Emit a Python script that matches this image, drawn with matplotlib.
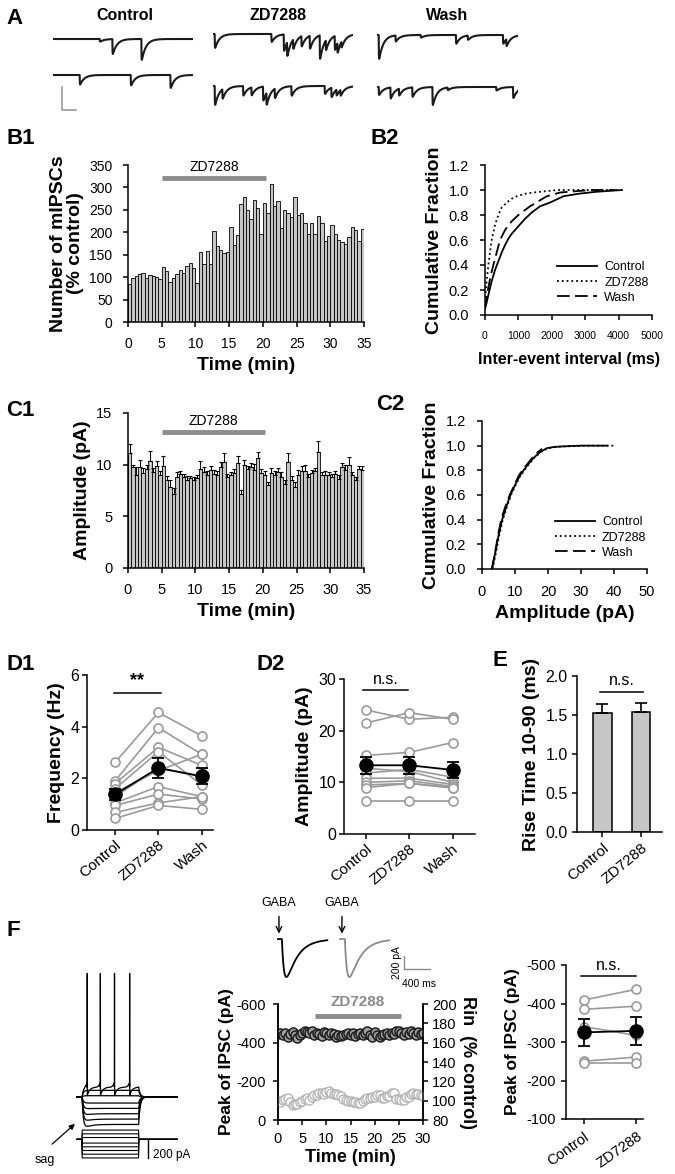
import numpy as np
import matplotlib
matplotlib.use('Agg')
import matplotlib.pyplot as plt

plt.rcParams['font.family'] = ['Liberation Sans', 'DejaVu Sans']
plt.rcParams['axes.linewidth'] = 1.1
plt.rcParams['axes.unicode_minus'] = False

# ---------------- DATA ----------------
# Panel A: mIPSC event times (ms, within a 2000 ms sweep) and amplitudes (pA)
a_ctrl1_t = [667, 848, 1262]
a_ctrl1_a = [2.6, 15, 21]
a_ctrl2_t = [381, 1110, 1676]
a_ctrl2_a = [9.6, 10.4, 13]
a_zd1_t = [24, 833, 1010, 1057, 1143, 1262, 1381, 1524, 1610, 1738, 1776, 1833]
a_zd1_a = [14, 8, 16.5, 14, 9.5, 10.4, 13, 23.5, 10, 14, 10, 6]
a_zd2_t = [24, 133, 429, 548, 714, 762, 881, 1119, 1595, 1690, 1762, 1819]
a_zd2_a = [19, 9.5, 9.5, 8, 14, 12, 9.5, 9.5, 8, 9.5, 6, 6]
a_wash1_t = [24, 262, 619, 1119, 1286, 1786, 1833]
a_wash1_a = [24, 6, 2.6, 8.7, 4.3, 8.7, 7]
a_wash2_t = [24, 190, 310, 500, 786, 1000, 1690, 1929]
a_wash2_a = [8, 11, 7, 9.5, 18, 2.6, 3.5, 11]

# B1: number of mIPSCs (% control), 0.5-min bins
b1_counts = [84, 98, 103, 106, 109, 98, 104, 103, 100, 95,
             123, 113, 89, 98, 108, 117, 109, 124, 132, 121,
             87, 156, 130, 159, 129, 203, 169, 160, 153, 156,
             211, 172, 195, 264, 279, 249, 229, 273, 255, 196,
             266, 243, 307, 258, 270, 210, 249, 242, 233, 279,
             238, 242, 220, 197, 220, 196, 236, 220, 181, 191,
             216, 197, 182, 179, 175, 190, 212, 205, 180, 208]
bin_width = 0.5

# B2: cumulative inter-event interval
b2_ctrl_x = [0, 50, 100, 200, 300, 400, 500, 600, 700, 800, 1000, 1200, 1400, 1650, 1950, 2350, 2800, 3300, 4100]
b2_ctrl_y = [0.05, 0.1, 0.16, 0.27, 0.36, 0.43, 0.5, 0.56, 0.61, 0.65, 0.71, 0.77, 0.82, 0.87, 0.9, 0.95, 0.97, 0.985, 1.0]
b2_zd_x = [0, 25, 50, 100, 150, 200, 300, 400, 500, 650, 800, 950, 1200, 1450, 1800, 2200, 3000, 4000]
b2_zd_y = [0.1, 0.2, 0.27, 0.4, 0.5, 0.6, 0.72, 0.8, 0.86, 0.9, 0.93, 0.95, 0.97, 0.98, 0.99, 1.0, 1.0, 1.0]
b2_wash_x = [0, 50, 100, 175, 250, 350, 450, 600, 800, 1000, 1200, 1350, 1600, 1850, 2250, 2700, 3200, 3900]
b2_wash_y = [0.05, 0.14, 0.22, 0.32, 0.4, 0.5, 0.6, 0.68, 0.75, 0.8, 0.84, 0.87, 0.91, 0.95, 0.98, 0.99, 1.0, 1.0]

# C1: amplitude (pA) per 0.5-min bin, with SEM
c1_amp = [11.1, 9.8, 9.0, 9.8, 9.2, 9.6, 10.4, 9.3, 9.9, 9.0,
          9.9, 8.5, 7.8, 7.2, 8.8, 9.1, 8.8, 8.5, 8.7, 8.5,
          8.7, 9.6, 9.3, 9.0, 9.5, 9.1, 9.0, 9.8, 10.3, 8.8,
          9.0, 9.2, 10.2, 7.2, 10.0, 9.6, 9.8, 9.5, 10.6, 9.2,
          9.0, 8.0, 9.2, 9.0, 9.3, 8.8, 8.1, 10.3, 8.5, 7.8,
          9.0, 9.4, 9.4, 8.8, 9.2, 9.4, 11.2, 9.0, 9.0, 9.0,
          8.8, 9.1, 8.6, 9.8, 9.5, 10.0, 9.0, 8.5, 9.6, 9.5]
c1_sem = [0.9, 0.2, 0.8, 0.7, 0.5, 0.4, 0.9, 0.4, 0.5, 0.4,
          0.9, 0.4, 0.7, 0.5, 0.5, 0.3, 0.3, 0.4, 0.2, 0.3,
          0.3, 0.8, 0.5, 0.4, 0.4, 0.4, 0.4, 0.5, 0.8, 0.3,
          0.3, 0.4, 0.6, 0.3, 0.5, 0.3, 0.4, 0.6, 0.6, 0.4,
          0.4, 0.3, 0.5, 0.4, 0.4, 0.5, 0.4, 0.8, 0.4, 0.5,
          0.5, 0.5, 0.6, 0.3, 0.3, 0.3, 1.1, 0.3, 0.4, 0.3,
          0.3, 0.3, 0.4, 0.4, 0.5, 0.7, 0.3, 0.3, 0.3, 0.4]

# C2: cumulative amplitude
c2_ctrl_x = [3.0, 4.0, 5.0, 6.1, 7.3, 8.6, 10.0, 11.3, 12.6, 14.0, 15.6, 17.7, 19.7, 22, 25, 30, 38]
c2_ctrl_y = [0, 0.13, 0.27, 0.4, 0.5, 0.6, 0.68, 0.75, 0.8, 0.85, 0.9, 0.95, 0.98, 0.99, 0.995, 1.0, 1.0]
c2_zd_x = [3.2, 4.2, 5.2, 6.3, 7.5, 8.8, 10.2, 11.5, 12.8, 14.2, 15.8, 17.9, 20.0, 22.5, 26, 32, 40]
c2_zd_y = [0, 0.13, 0.27, 0.4, 0.5, 0.6, 0.68, 0.75, 0.8, 0.85, 0.9, 0.95, 0.98, 0.99, 0.995, 1.0, 1.0]
c2_wash_x = [3.0, 4.0, 4.9, 5.8, 7.0, 8.4, 9.8, 11.2, 12.5, 14.0, 15.5, 17.0, 18.2]
c2_wash_y = [0, 0.14, 0.28, 0.4, 0.5, 0.6, 0.68, 0.76, 0.81, 0.86, 0.91, 0.95, 0.975]

conds3 = ['Control', 'ZD7288', 'Wash']
conds2 = ['Control', 'ZD7288']

# D1: frequency (Hz) per cell
d1_ctrl = [2.62, 1.90, 1.80, 1.60, 1.45, 1.30, 1.05, 0.95, 0.68, 0.45]
d1_zd = [4.55, 3.96, 3.20, 3.03, 2.30, 2.40, 1.68, 1.39, 1.05, 0.95]
d1_wash = [3.64, 2.93, 2.50, 1.74, 2.93, 2.06, 1.29, 1.20, 1.29, 0.80]
d1_mean = [1.38, 2.40, 2.08]
d1_sem = [0.21, 0.37, 0.31]

# D2: amplitude (pA) per cell
d2_ctrl = [24.0, 21.5, 15.2, 12.7, 11.8, 10.8, 10.0, 9.5, 9.0, 6.45]
d2_zd = [22.2, 23.5, 15.8, 12.1, 12.5, 10.8, 10.3, 9.8, 9.8, 6.45]
d2_wash = [22.6, 22.2, 17.7, 10.0, 11.0, 9.6, 9.2, 9.0, 8.9, 6.45]
d2_mean = [13.3, 13.3, 12.4]
d2_sem = [1.7, 1.7, 1.55]

# E: rise time
e_mean = [1.52, 1.54]
e_sem = [0.12, 0.12]

# F left: current steps (pA), steady voltage change (mV), sag (mV)
f_steps_pA = [100, 60, 20, -40, -80, -120, -160, -200]
f_dv_mV = [7.5, 5.0, 1.0, -4.5, -8.5, -12.5, -16.5, -20.5]
f_sag_mV = [0, 0, 0, 0, -0.5, -1.5, -2.5, -4.0]
f_spike_times = [100, 230, 370, 520]

# F middle: peak IPSC (pA) and Rin (% control) every 0.5 min
f_ipsc = [-445, -452, -440, -448, -430, -445, -455, -438, -425, -440,
          -450, -462, -455, -448, -460, -440, -452, -445, -435, -455,
          -448, -440, -452, -445, -430, -440, -432, -438, -445, -450,
          -440, -448, -432, -445, -452, -438, -450, -460, -442, -430,
          -455, -440, -428, -438, -445, -450, -440, -452, -445, -458,
          -462, -450, -440, -455, -445, -460, -450, -438, -455, -445, -450]
f_rin = [100, 99, 101, 102, 103, 99, 96, 97, 97, 99,
         100, 102, 103, 101, 104, 106, 106, 108, 108, 107,
         109, 110, 108, 107, 107, 106, 105, 102, 101, 100,
         100, 99, 99, 98, 98, 100, 102, 103, 103, 104,
         104, 106, 106, 103, 103, 105, 105, 108, 108, 102,
         102, 101, 101, 104, 104, 107, 108, 107, 107, 106, 105]
f_sample_min = 0.5

# F right: peak IPSC per cell
f_ctrl = [-409, -385, -340, -250, -245]
f_zd = [-437, -393, -317, -261, -245]
f_mean = [-325, -329]
f_sem = [35, 36]

# ---------------- LAYOUT HELPERS ----------------
W, H = 675, 1174
fig = plt.figure(figsize=(W / 100, H / 100), dpi=100)


def pax(x0, y0, x1, y1):
    return fig.add_axes([x0 / W, 1 - y1 / H, (x1 - x0) / W, (y1 - y0) / H])


def ftext(x, y, s, **kw):
    fig.text(x / W, 1 - y / H, s, **kw)


def style(ax, fs=10, pad=2):
    ax.spines['top'].set_visible(False)
    ax.spines['right'].set_visible(False)
    ax.tick_params(direction='out', length=3.6, width=1.1, labelsize=fs, pad=pad)


LBL = dict(fontsize=14, fontweight='bold')
GRAY = '#9a9a9a'
BARGRAY = '#c6c6c6'

# ---------------- PANEL A ----------------
t_sweep = np.arange(0, 2000, 1.0)


def make_trace(times, amps):
    y = np.zeros_like(t_sweep)
    for e, a in zip(times, amps):
        m = t_sweep >= e
        dt = t_sweep[m] - e
        y[m] -= a * (1 - np.exp(-dt / 2.0)) * np.exp(-dt / 60.0)
    return y


pa_per_px = 0.87
trace_specs = [
    (53, 193, 39, a_ctrl1_t, a_ctrl1_a),
    (53, 193, 75, a_ctrl2_t, a_ctrl2_a),
    (213, 353, 34, a_zd1_t, a_zd1_a),
    (213, 353, 86, a_zd2_t, a_zd2_a),
    (377, 518, 35, a_wash1_t, a_wash1_a),
    (377, 518, 87, a_wash2_t, a_wash2_a),
]
trace_axes = []
for x0, x1, base, tt, aa in trace_specs:
    ax = pax(x0, base - 8, x1, base + 30)
    ax.plot(t_sweep, make_trace(tt, aa), color='#1a1a1a', lw=1.5)
    ax.set_xlim(0, 2000)
    ax.set_ylim(-30 * pa_per_px, 8 * pa_per_px)
    ax.axis('off')
    trace_axes.append(ax)
# scale bar (20 pA / 200 ms)
sb = trace_axes[1]
sb.plot([129, 129, 329], [-10.4, -30.4, -30.4], color='#999999', lw=1.2, clip_on=False)

ftext(125, 15, 'Control', fontsize=11.5, fontweight='bold', ha='center', va='center')
ftext(278, 15, 'ZD7288', fontsize=11.5, fontweight='bold', ha='center', va='center')
ftext(447, 15, 'Wash', fontsize=11.5, fontweight='bold', ha='center', va='center')

# ---------------- PANEL B1 ----------------
ax = pax(128, 165, 364, 322)
left_edges = np.arange(len(b1_counts)) * bin_width
ax.bar(left_edges, b1_counts, width=bin_width, align='edge', color=BARGRAY,
       edgecolor='black', linewidth=0.6)
ax.set_xlim(0, 35)
ax.set_ylim(0, 350)
ax.set_xticks(range(0, 36, 5))
ax.set_yticks(range(0, 351, 50))
style(ax, 10, pad=7.5)
ax.plot([5, 20.5], [320, 320], color='#8c8c8c', lw=3.5, solid_capstyle='butt', clip_on=False)
ax.text(12.75, 346, 'ZD7288', ha='center', va='center', fontsize=10, clip_on=False)
ax.set_xlabel('Time (min)', **LBL)
ax.set_ylabel('Number of mIPSCs\n(% control)', linespacing=1.0, labelpad=4, **LBL)

# ---------------- PANEL B2 ----------------
ax = pax(485, 165, 652, 315)
ax.plot(b2_ctrl_x, b2_ctrl_y, color='black', lw=1.3, label='Control')
ax.plot(b2_zd_x, b2_zd_y, color='black', lw=1.3, ls=':', label='ZD7288')
ax.plot(b2_wash_x, b2_wash_y, color='black', lw=1.3, ls=(0, (7, 3)), label='Wash')
ax.set_xlim(0, 5000)
ax.set_ylim(0, 1.2)
ax.set_xticks(range(0, 5001, 1000))
ax.set_yticks(np.arange(0, 1.21, 0.2))
ax.set_yticklabels(['0.0', '0.2', '0.4', '0.6', '0.8', '1.0', '1.2'])
style(ax, 10.5, pad=8)
ax.tick_params(axis='x', labelsize=7.5)
ax.set_xlabel('Inter-event interval (ms)', fontsize=11.5, fontweight='bold', labelpad=8)
ax.set_ylabel('Cumulative Fraction', **LBL)
ax.legend(loc='lower left', bbox_to_anchor=(0.43, 0.075), frameon=False, fontsize=9,
          handlelength=3.2, labelspacing=0.25, borderaxespad=0, borderpad=0, handletextpad=0.6)

# ---------------- PANEL C1 ----------------
ax = pax(128, 413, 364, 568)
left_edges = np.arange(len(c1_amp)) * bin_width
ax.bar(left_edges, c1_amp, width=bin_width, align='edge', color=BARGRAY,
       edgecolor='black', linewidth=0.6)
ax.errorbar(left_edges + bin_width / 2, c1_amp, yerr=[np.zeros(len(c1_sem)), c1_sem],
            fmt='none', ecolor='black', elinewidth=0.8, capsize=1.5, capthick=0.8)
ax.set_xlim(0, 35)
ax.set_ylim(0, 15)
ax.set_xticks(range(0, 36, 5))
ax.set_yticks([0, 5, 10, 15])
style(ax, 10.5, pad=7.5)
ax.plot([5, 20.3], [13.2, 13.2], color='#8c8c8c', lw=3.5, solid_capstyle='butt', clip_on=False)
ax.text(12.65, 14.25, 'ZD7288', ha='center', va='center', fontsize=10)
ax.set_xlabel('Time (min)', **LBL)
ax.set_ylabel('Amplitude (pA)', **LBL)

# ---------------- PANEL C2 ----------------
ax = pax(482, 421, 647, 569)
ax.plot(c2_ctrl_x, c2_ctrl_y, color='black', lw=1.3, label='Control')
ax.plot(c2_zd_x, c2_zd_y, color='black', lw=1.3, ls=':', label='ZD7288')
ax.plot(c2_wash_x, c2_wash_y, color='black', lw=1.3, ls=(0, (7, 3)), label='Wash')
ax.set_xlim(0, 50)
ax.set_ylim(0, 1.2)
ax.set_xticks(range(0, 51, 10))
ax.set_yticks(np.arange(0, 1.21, 0.2))
ax.set_yticklabels(['0.0', '0.2', '0.4', '0.6', '0.8', '1.0', '1.2'])
style(ax, 10.5, pad=8)
ax.set_xlabel('Amplitude (pA)', **LBL)
ax.set_ylabel('Cumulative Fraction', **LBL)
ax.legend(loc='lower left', bbox_to_anchor=(0.44, 0.07), frameon=False, fontsize=9,
          handlelength=3.2, labelspacing=0.25, borderaxespad=0, borderpad=0, handletextpad=0.6)


# ---------------- PANEL D helpers ----------------
def paired(ax, cols, means, sems):
    xs = np.arange(len(cols))
    vals = np.array(cols).T
    for row in vals:
        ax.plot(xs, row, color=GRAY, lw=1.2, marker='o', ms=6.5, mfc='white',
                mec=GRAY, mew=1.2, zorder=2)
    ax.errorbar(xs, means, yerr=sems, color='black', lw=1.3, marker='o', ms=9.5,
                mfc='black', mec='black', capsize=4, capthick=1.3, elinewidth=1.3, zorder=5)


def rot_labels(ax, labels, fs=11, rot=40):
    ax.set_xticks(range(len(labels)))
    ax.set_xticklabels(labels, rotation=rot, ha='right', rotation_mode='anchor', fontsize=fs)


# ---------------- PANEL D1 ----------------
ax = pax(87, 675, 213, 830)
paired(ax, [d1_ctrl, d1_zd, d1_wash], d1_mean, d1_sem)
ax.set_xlim(-0.65, 2.26)
ax.set_ylim(0, 6)
ax.set_yticks([0, 2, 4, 6])
style(ax, 11.5, pad=2)
rot_labels(ax, conds3)
ax.plot([-0.03, 1.05], [5.32, 5.32], color='black', lw=1.1)
ax.text(0.5, 5.45, '**', ha='center', va='bottom', fontsize=13, fontweight='bold')
ax.set_ylabel('Frequency (Hz)', **LBL)

# ---------------- PANEL D2 ----------------
ax = pax(344, 679, 475, 834)
paired(ax, [d2_ctrl, d2_zd, d2_wash], d2_mean, d2_sem)
ax.set_xlim(-0.51, 2.52)
ax.set_ylim(0, 30)
ax.set_yticks([0, 10, 20, 30])
style(ax, 11.5, pad=2)
rot_labels(ax, conds3)
ax.plot([-0.08, 0.97], [27.9, 27.9], color='black', lw=1.1)
ax.text(0.45, 28.4, 'n.s.', ha='center', va='bottom', fontsize=11.5)
ax.set_ylabel('Amplitude (pA)', **LBL)

# ---------------- PANEL E ----------------
ax = pax(577, 676, 662, 832)
ax.bar([0, 1], e_mean, width=0.48, color=BARGRAY, edgecolor='black', linewidth=1.1)
ax.errorbar([0, 1], e_mean, yerr=[[0, 0], e_sem], fmt='none', ecolor='black',
            elinewidth=1.2, capsize=4, capthick=1.2)
ax.set_xlim(-0.66, 1.55)
ax.set_ylim(0, 2.0)
ax.set_yticks([0, 0.5, 1.0, 1.5, 2.0])
ax.set_yticklabels(['0.0', '0.5', '1.0', '1.5', '2.0'])
style(ax, 11.5, pad=3)
rot_labels(ax, conds2)
ax.plot([-0.06, 1.05], [1.80, 1.80], color='black', lw=1.1)
ax.text(0.5, 1.84, 'n.s.', ha='center', va='bottom', fontsize=11.5)
ax.set_ylabel('Rise Time 10-90 (ms)', **LBL)

# ---------------- PANEL F left (traces) ----------------
tf = np.arange(0, 1000, 0.5)
on, off = 50, 610
vrest = -65.0
axv = pax(72, 960, 178, 1135)
for cur, dv, sag in zip(f_steps_pA, f_dv_mV, f_sag_mV):
    v = np.full_like(tf, vrest)
    m = (tf >= on) & (tf < off)
    dt = tf[m] - on
    v[m] = vrest + (dv + sag * np.exp(-dt / 60.0)) * (1 - np.exp(-dt / 12.0))
    vend = vrest + dv
    m2 = tf >= off
    v[m2] = vrest + (vend - vrest) * np.exp(-(tf[m2] - off) / 15.0)
    if cur == max(f_steps_pA):
        for ts in f_spike_times:
            d = tf - ts
            v += np.where((d >= 0) & (d < 2.0), 85 * (1 - np.abs(d - 1.0)), 0)
            v += np.where(d >= 2.0, -6 * np.exp(-(d - 2.0) / 25.0), 0) * m
            v += np.where((d > -40) & (d < 0), 3 * (1 + d / 40.0) ** 2, 0)
    axv.plot(tf, v, color='black', lw=0.9)
axv.set_xlim(-50, 1000)
axv.set_ylim(-93.4, 37.5)
axv.axis('off')

axi = pax(72, 1125, 178, 1162)
for cur in f_steps_pA:
    i = np.where((tf >= on) & (tf < off), cur, 0.0)
    axi.plot(tf, i, color='black', lw=0.8)
axi.plot([703, 703], [0, -200], color='black', lw=1.0)
axi.text(750, -165, '200 pA', fontsize=8.5, va='center', ha='left')
axi.set_xlim(-50, 1000)
axi.set_ylim(-244, 155)
axi.axis('off')

fig.text(45 / W, 1 - 1160 / H, 'sag', fontsize=9, ha='center', va='center')
fig.patches.append(matplotlib.patches.FancyArrowPatch(
    (50 / W, 1 - 1146 / H), (77 / W, 1 - 1122 / H), transform=fig.transFigure,
    arrowstyle='-|>', mutation_scale=8, color='black', lw=0.9))

# ---------------- PANEL F middle ----------------
axg = pax(270, 895, 440, 990)
tg = np.arange(0, 760, 1.0)


def ipsc(onset, amp):
    d = np.clip(tg - onset, 0, None)
    g = (np.exp(-d / 170.0) - np.exp(-d / 35.0))
    return -amp * g / g.max()


axg.plot(tg, ipsc(60, 585), color='black', lw=1.3)
axg.plot(tg + 955, ipsc(75, 585), color='#8a8a8a', lw=1.3)
for xa in [15, 985]:
    axg.annotate('', xy=(xa, 40), xytext=(xa, 390),
                 arrowprops=dict(arrowstyle='->', color='black', lw=1.0))
    axg.text(xa, 470, 'GABA', ha='center', va='bottom', fontsize=9)
axg.plot([1940, 1940, 2340], [-262, -462, -462], color='#8a8a8a', lw=1.0)
axg.text(1833, -362, '200 pA', rotation=90, ha='center', va='center', fontsize=7.5)
axg.text(2171, -690, '400 ms', ha='center', va='center', fontsize=7.5)
axg.set_xlim(-123, 2495)
axg.set_ylim(-785, 678)
axg.axis('off')

ax = pax(278, 1004, 423, 1120)
times = np.arange(len(f_ipsc)) * f_sample_min
ax.plot(times, f_ipsc, ls='none', marker='o', ms=6.5, mfc='#a0a0a0', mec='#1e1e1e', mew=1.1, zorder=3)
ax.set_xlim(0, 30)
ax.set_ylim(0, -600)
ax.set_xticks(range(0, 31, 5))
ax.set_yticks([0, -200, -400, -600])
style(ax, 10.5, pad=5)
ax.spines['right'].set_visible(True)
ax.plot([7.6, 25.5], [-539, -539], color='#8c8c8c', lw=3.5, solid_capstyle='butt', clip_on=False)
ax.text(16.5, -612, 'ZD7288', ha='center', va='center', fontsize=11, fontweight='bold',
        color='#8a8a8a', clip_on=False)
ax.set_xlabel('Time (min)', fontsize=13, fontweight='bold', labelpad=2)
ax.set_ylabel('Peak of IPSC (pA)', fontsize=12.5, fontweight='bold', labelpad=2)
ax2 = ax.twinx()
ax2.plot(times, f_rin, ls='none', marker='o', ms=6.5, mfc='white', mec='#b4b4b4', mew=1.0, zorder=2)
ax2.set_ylim(80, 200)
ax2.set_yticks(range(80, 201, 20))
ax2.spines['top'].set_visible(False)
ax2.tick_params(direction='out', length=3.6, width=1.1, labelsize=10.5, pad=3)
ax2.set_ylabel('Rin  (% control)', rotation=270, labelpad=14, fontsize=13, fontweight='bold')

# ---------------- PANEL F right ----------------
ax = pax(566, 965, 643, 1119)
paired(ax, [f_ctrl, f_zd], f_mean, f_sem)
ax.set_xlim(-0.34, 1.125)
ax.set_ylim(-100, -500)
ax.set_yticks([-500, -400, -300, -200, -100])
style(ax, 10.5, pad=4)
rot_labels(ax, conds2, fs=10.5, rot=35)
ax.plot([-0.05, 1.0], [-472, -472], color='black', lw=1.1)
ax.text(0.48, -478, 'n.s.', ha='center', va='bottom', fontsize=11.5)
ax.set_ylabel('Peak of IPSC (pA)', fontsize=12.5, fontweight='bold')

# ---------------- PANEL LETTERS ----------------
PL = dict(fontsize=16, fontweight='bold', ha='left', va='center')
ftext(6, 18, 'A', **PL)
ftext(6, 138, 'B1', **PL)
ftext(371, 138, 'B2', **PL)
ftext(6, 411, 'C1', **PL)
ftext(376, 405, 'C2', **PL)
ftext(6, 665, 'D1', **PL)
ftext(257, 664, 'D2', **PL)
ftext(492, 660, 'E', **PL)
ftext(6, 931, 'F', **PL)

fig.savefig('out.png', dpi=100)
